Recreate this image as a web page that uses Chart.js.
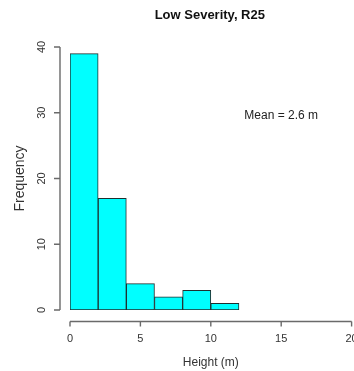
<!DOCTYPE html>
<html>
<head>
<meta charset="utf-8">
<script src="https://cdn.jsdelivr.net/npm/chart.js@4.4.0/dist/chart.umd.min.js"></script>
<style>
  html, body { margin: 0; padding: 0; background: #fff; }
  #wrap { width: 354px; height: 371px; }
</style>
</head>
<body>
<div id="wrap"><canvas id="hist"></canvas></div>
<script>
// histogram data
const binEdges = [0, 2, 4, 6, 8, 10, 12];
const counts = [39, 17, 4, 2, 3, 1];
const xTicks = [0, 5, 10, 15, 20];
const yTicks = [0, 10, 20, 30, 40];
const titleText = 'Low Severity, R25';
const xTitle = 'Height (m)';
const yTitle = 'Frequency';
const meanNote = 'Mean = 2.6 m';
const meanPos = [15, 29.5]; // where the note sits, in data units

const FONT = '"Liberation Sans", Arial, sans-serif';

// one point per bin, centred in the bin
let points = [];
for (let i = 0; i < counts.length; i++) {
    points.push({ x: (binEdges[i] + binEdges[i + 1]) / 2, y: counts[i] });
}

// R style axes: lines only span the tick range and sit off the plot
const rAxes = {
    id: 'rAxes',
    afterDraw(chart) {
        const { ctx, scales: { x, y } } = chart;
        const axisX = x.getPixelForValue(xTicks[0]) - 10;
        const axisY = y.getPixelForValue(yTicks[0]) + 11.5;
        ctx.save();
        ctx.strokeStyle = '#6a6a6a';
        ctx.lineWidth = 1.4;

        // y axis
        ctx.beginPath();
        ctx.moveTo(axisX, y.getPixelForValue(yTicks[0]));
        ctx.lineTo(axisX, y.getPixelForValue(yTicks[yTicks.length - 1]));
        yTicks.forEach(t => {
            const py = y.getPixelForValue(t);
            ctx.moveTo(axisX, py);
            ctx.lineTo(axisX - 6, py);
        });
        ctx.stroke();

        // x axis
        ctx.beginPath();
        ctx.moveTo(x.getPixelForValue(xTicks[0]), axisY);
        ctx.lineTo(x.getPixelForValue(xTicks[xTicks.length - 1]), axisY);
        xTicks.forEach(t => {
            const px = x.getPixelForValue(t);
            ctx.moveTo(px, axisY);
            ctx.lineTo(px, axisY + 5);
        });
        ctx.stroke();

        ctx.fillStyle = '#333';
        ctx.font = '11px ' + FONT;
        ctx.textAlign = 'center';
        ctx.textBaseline = 'middle';
        xTicks.forEach(t => {
            ctx.fillText(String(t), x.getPixelForValue(t), axisY + 17.5);
        });
        yTicks.forEach(t => {
            ctx.save();
            ctx.translate(axisX - 18, y.getPixelForValue(t));
            ctx.rotate(-Math.PI / 2);
            ctx.fillText(String(t), 0, 0);
            ctx.restore();
        });

        // axis titles
        ctx.font = '12px ' + FONT;
        ctx.fillText(xTitle, (x.left + x.right) / 2, axisY + 41);
        ctx.save();
        ctx.font = '14px ' + FONT;
        ctx.translate(20, (y.top + y.bottom) / 2);
        ctx.rotate(-Math.PI / 2);
        ctx.fillText(yTitle, 0, 0);
        ctx.restore();

        // main title
        ctx.fillStyle = '#111';
        ctx.font = 'bold 13px ' + FONT;
        ctx.fillText(titleText, (x.left + x.right) / 2 - 1, 15);

        // mean note
        ctx.fillStyle = '#222';
        ctx.font = '12px ' + FONT;
        ctx.fillText(meanNote, x.getPixelForValue(meanPos[0]), y.getPixelForValue(meanPos[1]));
        ctx.restore();
    }
};

const ctx = document.getElementById('hist').getContext('2d');
const chart = new Chart(ctx, {
    type: 'bar',
    data: {
        datasets: [{
            data: points,
            backgroundColor: '#00FFFF',
            borderColor: '#1f2f2f',
            borderWidth: 1,
            borderSkipped: false,
            barPercentage: 1,
            categoryPercentage: 1
        }]
    },
    options: {
        responsive: true,
        maintainAspectRatio: false,
        animation: false,
        layout: {
            padding: { left: 70, right: 2.4, top: 47, bottom: 61 }
        },
        plugins: {
            legend: { display: false },
            tooltip: { enabled: false },
            title: { display: false }
        },
        scales: {
            x: { type: 'linear', min: 0, max: 20, offset: false, display: false },
            y: { min: 0, max: 40, display: false }
        }
    },
    plugins: [rAxes]
});
</script>
</body>
</html>
